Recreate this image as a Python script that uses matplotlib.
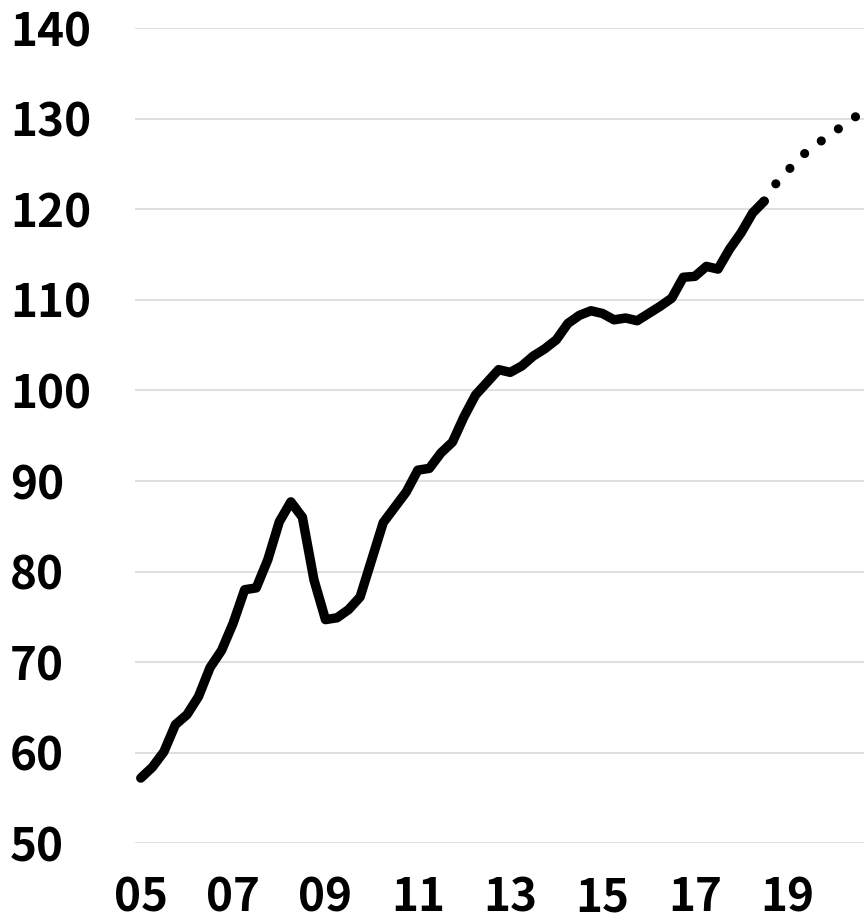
import matplotlib
matplotlib.use("Agg")
import matplotlib.pyplot as plt
import numpy as np

# Quarterly index values, 2005Q1 .. 2018Q3 (actual)
actual = [57.2, 58.4, 60.1, 63.1, 64.2, 66.2, 69.4, 71.3, 74.3, 78.0,
          78.2, 81.3, 85.5, 87.7, 86.0, 79.1, 74.7, 74.9, 75.8, 77.2,
          81.3, 85.4, 87.1, 88.8, 91.2, 91.4, 93.1, 94.3, 97.1, 99.5,
          100.9, 102.3, 102.0, 102.7, 103.8, 104.6, 105.6, 107.4, 108.3, 108.8,
          108.5, 107.8, 108.0, 107.7, 108.5, 109.3, 110.2, 112.5, 112.6, 113.7,
          113.4, 115.6, 117.4, 119.6, 120.9]
# Forecast 2018Q3 .. 2020Q3
forecast = [120.9, 122.8, 124.2, 125.6, 126.7, 127.6, 128.5, 129.4, 130.3]

start_year = 2005
tick_labels = ["05", "07", "09", "11", "13", "15", "17", "19"]
y_ticks = [50, 60, 70, 80, 90, 100, 110, 120, 130, 140]

x_act = start_year + np.arange(len(actual)) / 4.0
x_fc = x_act[-1] + np.arange(len(forecast)) / 4.0

plt.rcParams['font.family'] = ['Noto Sans CJK JP', 'DejaVu Sans']

W, H = 864, 922
DPI = 100
fig = plt.figure(figsize=(W / DPI, H / DPI), dpi=DPI)
ax = fig.add_axes([135 / W, (H - 843.3) / H, 1 - 135 / W, (843.3 - 28.2) / H])

ax.set_ylim(50, 140)
ax.set_xlim(start_year - 0.125, start_year + 62.65 / 4)

ax.plot(x_act, actual, color='black', lw=6.8, solid_capstyle='round',
        solid_joinstyle='round', clip_on=False, zorder=3)

# dotted forecast: choose dot spacing so that dots land on both ends
lw_fc = 6.6
pts = ax.transData.transform(np.column_stack([x_fc, forecast]))
L = np.sum(np.hypot(np.diff(pts[:, 0]), np.diff(pts[:, 1])))
n = max(1, int(round(L / 21.0)))
gap_pt = (L / n) * 0.99 * 72.0 / DPI
ratio = gap_pt / lw_fc
ax.plot(x_fc, forecast, color='black', lw=lw_fc,
        linestyle=(0, (0.001, ratio - 0.001)),
        dash_capstyle='round', clip_on=False, zorder=3)

ax.set_yticks(y_ticks)
ax.set_yticklabels([str(v) for v in y_ticks])
ax.set_xticks([start_year + 2 * i for i in range(len(tick_labels))])
ax.set_xticklabels(tick_labels)

ax.grid(axis='y', color='#dcdcdc', lw=1.3)
ax.grid(axis='x', visible=False)
ax.set_axisbelow(True)
for s in ax.spines.values():
    s.set_visible(False)

ax.tick_params(axis='y', length=0, pad=90, labelsize=33)
ax.tick_params(axis='x', length=0, pad=23, labelsize=33)
for lab in ax.get_yticklabels():
    lab.set_fontweight('bold')
    lab.set_horizontalalignment('left')
for lab in ax.get_xticklabels():
    lab.set_fontweight('bold')

fig.savefig("out.png", dpi=DPI, facecolor='white')
